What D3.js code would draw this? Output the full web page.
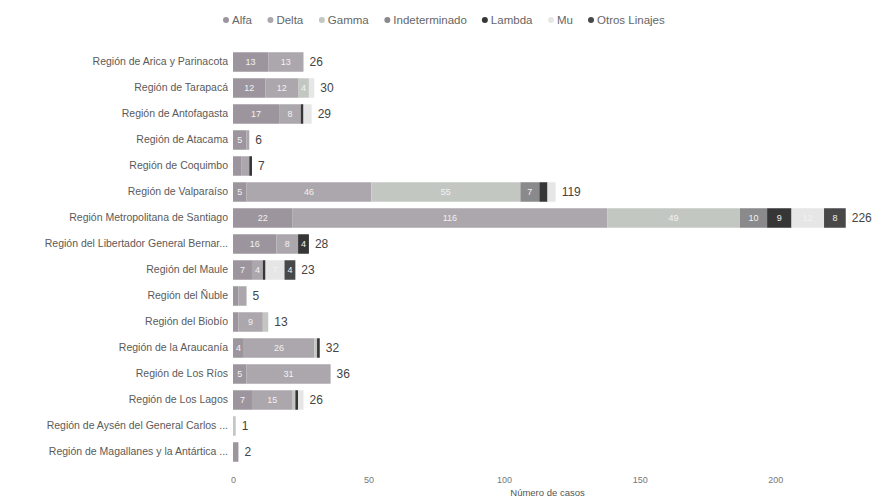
<!DOCTYPE html>
<html>
<head>
<meta charset="utf-8">
<script src="https://cdn.jsdelivr.net/npm/d3@7"></script>
<style>
  html, body { margin: 0; padding: 0; background: #fff; }
  svg { display: block; }
  text { font-family: "Liberation Sans", Arial, sans-serif; }
</style>
</head>
<body>
<svg id="chart" width="875" height="499"></svg>
<script>
// ---- data ----
const regions = [
  "Región de Arica y Parinacota",
  "Región de Tarapacá",
  "Región de Antofagasta",
  "Región de Atacama",
  "Región de Coquimbo",
  "Región de Valparaíso",
  "Región Metropolitana de Santiago",
  "Región del Libertador General Bernar...",
  "Región del Maule",
  "Región del Ñuble",
  "Región del Biobío",
  "Región de la Araucanía",
  "Región de Los Ríos",
  "Región de Los Lagos",
  "Región de Aysén del General Carlos ...",
  "Región de Magallanes y la Antártica ..."
];
const seriesNames = ["Alfa", "Delta", "Gamma", "Indeterminado", "Lambda", "Mu", "Otros Linajes"];
const alfa          = [13, 12, 17, 5, 3, 5, 22, 16, 7, 2, 2, 4, 5, 7, 0, 2];
const delta         = [13, 12, 8, 1, 3, 46, 116, 8, 4, 3, 9, 26, 31, 15, 0, 0];
const gamma         = [0, 4, 0, 0, 0, 55, 49, 0, 0, 0, 2, 1, 0, 1, 1, 0];
const indeterminado = [0, 0, 0, 0, 0, 7, 10, 0, 0, 0, 0, 0, 0, 0, 0, 0];
const lambda        = [0, 0, 1, 0, 1, 3, 9, 4, 1, 0, 0, 1, 0, 1, 0, 0];
const mu            = [0, 2, 3, 0, 0, 3, 12, 0, 7, 0, 0, 0, 0, 2, 0, 0];
const otros         = [0, 0, 0, 0, 0, 0, 8, 0, 4, 0, 0, 0, 0, 0, 0, 0];
const totals        = [26, 30, 29, 6, 7, 119, 226, 28, 23, 5, 13, 32, 36, 26, 1, 2];
const xTicks = [0, 50, 100, 150, 200];
const colors = ["#9d959e", "#aca6ad", "#c3c7c2", "#8a898b", "#363636", "#e6e6e6", "#484848"];

// ---- build table ----
const seriesValues = [alfa, delta, gamma, indeterminado, lambda, mu, otros];
const table = regions.map((r, i) => {
  const row = { region: r, total: totals[i] };
  seriesNames.forEach((s, j) => row[s] = seriesValues[j][i]);
  return row;
});
const stacked = d3.stack().keys(seriesNames)(table);

const svg = d3.select("#chart");
const margin = { left: 233, right: 13, top: 49, bottom: 34 };
const W = 875, H = 499;

const x = d3.scaleLinear().domain([0, 232]).range([margin.left, W - margin.right]);
const y = d3.scaleBand().domain(regions).range([margin.top, H - margin.bottom]).paddingInner(0.25).paddingOuter(0.125);
const color = d3.scaleOrdinal().domain(seriesNames).range(colors);

// bars
const layers = svg.append("g").selectAll("g").data(stacked).join("g").attr("fill", d => color(d.key));
layers.selectAll("rect").data(d => d.map(v => Object.assign(v, { key: d.key })))
  .join("rect")
  .attr("x", d => x(d[0]))
  .attr("y", d => y(d.data.region))
  .attr("width", d => Math.max(0, x(d[1]) - x(d[0])))
  .attr("height", y.bandwidth());

// segment labels
layers.selectAll("text").data(d => d.filter(v => (v[1] - v[0]) >= 4))
  .join("text")
  .attr("x", d => (x(d[0]) + x(d[1])) / 2)
  .attr("y", d => y(d.data.region) + y.bandwidth() / 2)
  .attr("dy", "0.35em")
  .attr("text-anchor", "middle")
  .attr("font-size", 9)
  .attr("fill", "#f2f2f2")
  .text(d => d[1] - d[0]);

// totals
svg.append("g").selectAll("text").data(table).join("text")
  .attr("x", d => x(d.total) + 6)
  .attr("y", d => y(d.region) + y.bandwidth() / 2)
  .attr("dy", "0.36em")
  .attr("font-size", 12)
  .attr("fill", "#444")
  .text(d => d.total);

// y axis labels
const yAxis = svg.append("g").attr("transform", `translate(${margin.left},0)`)
  .call(d3.axisLeft(y).tickSize(0).tickPadding(5));
yAxis.select(".domain").remove();
yAxis.selectAll("text").attr("font-size", 10.5).attr("fill", "#5a5a5a").style("font-family", "Liberation Sans, Arial, sans-serif");

// x axis
const xAxis = svg.append("g").attr("transform", `translate(0,${H - margin.bottom + 12})`)
  .call(d3.axisBottom(x).tickValues(xTicks).tickSize(0).tickPadding(0));
xAxis.select(".domain").remove();
xAxis.selectAll("text").attr("font-size", 9).attr("fill", "#777").style("font-family", "Liberation Sans, Arial, sans-serif");

svg.append("text")
  .attr("x", (x.range()[0] + x.range()[1]) / 2)
  .attr("y", 496)
  .attr("text-anchor", "middle")
  .attr("font-size", 9.5)
  .attr("fill", "#555")
  .text("Número de casos");

// legend
const legend = svg.append("g").attr("transform", "translate(226,20)");
const items = legend.selectAll("g").data(seriesNames).join("g");
items.append("circle").attr("r", 3).attr("cx", 0).attr("cy", 0).attr("fill", d => color(d));
items.append("text").attr("x", 6).attr("dy", "0.35em").attr("font-size", 11.5).attr("fill", "#666").text(d => d);
const widths = [];
items.each(function () { widths.push(this.getBBox().width); });
const totalW = 668 - 226;
const gap = (totalW - d3.sum(widths)) / (seriesNames.length - 1);
let cx = 0;
items.attr("transform", (d, i) => { const t = `translate(${cx},0)`; cx += widths[i] + gap; return t; });
</script>
</body>
</html>
